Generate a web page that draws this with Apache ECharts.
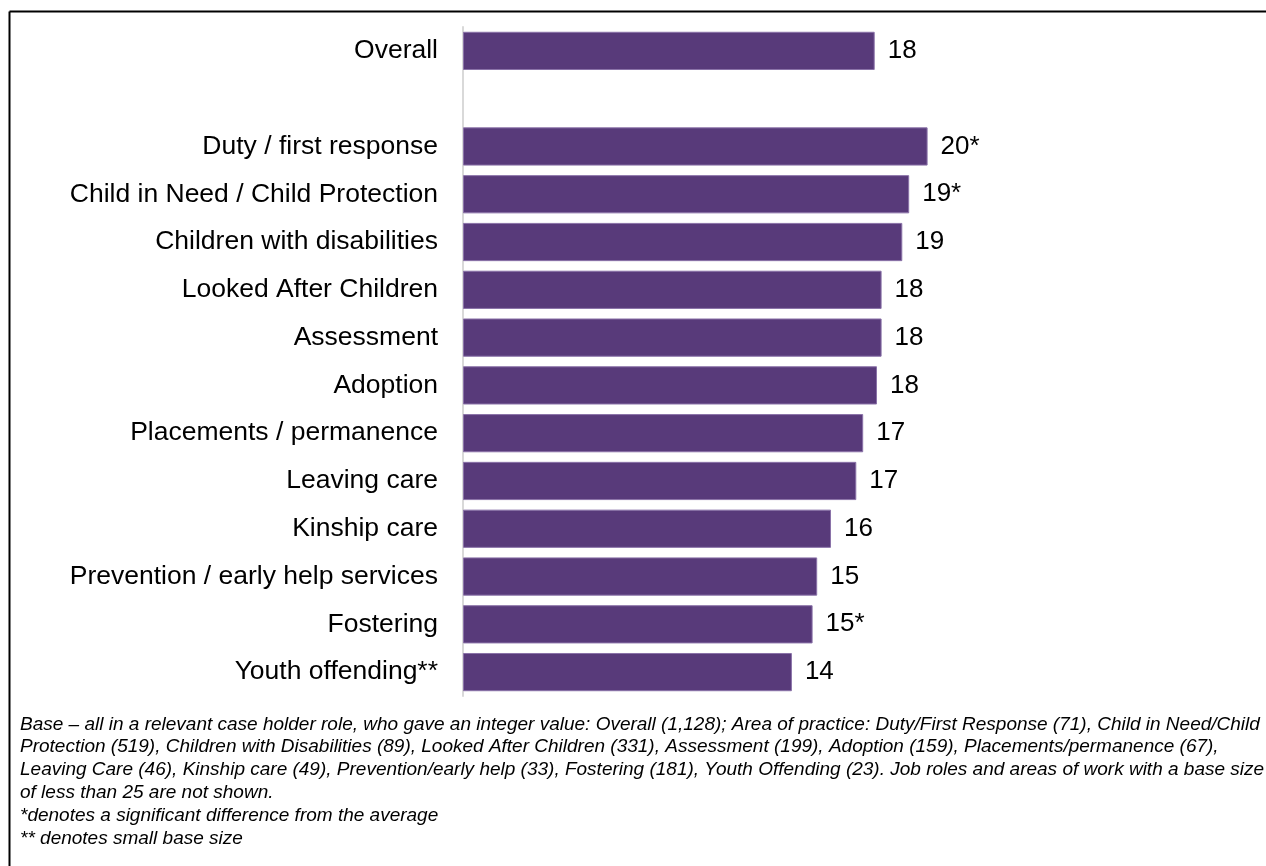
<!DOCTYPE html>
<html><head><meta charset="utf-8">
<style>html,body{margin:0;padding:0;background:#fff;}#c{width:1266px;height:866px;}</style>
<script src="https://cdn.jsdelivr.net/npm/echarts@6/dist/echarts.min.js"></script>
</head><body><div id="c"></div>
<script>
const categories = ['Overall', '', 'Duty / first response', 'Child in Need / Child Protection', 'Children with disabilities', 'Looked After Children', 'Assessment', 'Adoption', 'Placements / permanence', 'Leaving care', 'Kinship care', 'Prevention / early help services', 'Fostering', 'Youth offending**'];
const values = [17.9, null, 20.2, 19.4, 19.1, 18.2, 18.2, 18.0, 17.4, 17.1, 16.0, 15.4, 15.2, 14.3];
const valueLabels = ['18', '', '20*', '19*', '19', '18', '18', '18', '17', '17', '16', '15', '15*', '14'];
const footnoteLines = [
  'Base \u2013 all in a relevant case holder role, who gave an integer value: Overall (1,128); Area of practice: Duty/First Response (71), Child in Need/Child',
  'Protection (519), Children with Disabilities (89), Looked After Children (331), Assessment (199), Adoption (159), Placements/permanence (67),',
  'Leaving Care (46), Kinship care (49), Prevention/early help (33), Fostering (181), Youth Offending (23). Job roles and areas of work with a base size',
  'of less than 25 are not shown.',
  '*denotes a significant difference from the average',
  '** denotes small base size'
];

const chart = echarts.init(document.getElementById('c'), null, {renderer: 'canvas'});
chart.setOption({
  animation: false,
  backgroundColor: '#fff',
  grid: {left: 463, top: 27, bottom: 170, width: 552, containLabel: false},
  xAxis: {type: 'value', min: 0, max: 24, show: false},
  yAxis: {
    type: 'category', data: categories, inverse: true,
    axisLine: {show: true, lineStyle: {color: '#d9d9d9', width: 2}},
    axisTick: {show: false},
    axisLabel: {fontFamily: 'Liberation Sans, Arial, sans-serif', fontSize: 26.5, color: '#000', margin: 25, padding: [4, 0, 0, 0]}
  },
  series: [{
    type: 'bar', data: values, barCategoryGap: '20%',
    itemStyle: {color: '#583a7a', borderColor: '#8a72a8', borderWidth: 1},
    label: {show: true, position: 'right', distance: 13, padding: [4, 0, 0, 0],
      fontFamily: 'Liberation Sans, Arial, sans-serif', fontSize: 26, color: '#000',
      formatter: p => valueLabels[p.dataIndex]}
  }],
  graphic: [
    {type: 'line', shape: {x1: 9.5, y1: 11.5, x2: 1266, y2: 11.5}, style: {stroke: '#000', lineWidth: 2}},
    {type: 'line', shape: {x1: 9.5, y1: 11.5, x2: 9.5, y2: 866}, style: {stroke: '#000', lineWidth: 2}},
    {type: 'text', left: 20, top: 713, style: {text: footnoteLines.join('\n'), fontFamily: 'Liberation Sans, Arial, sans-serif', fontStyle: 'italic', fontSize: 19, lineHeight: 22.8, fill: '#000'}}
  ]
});
</script></body></html>
